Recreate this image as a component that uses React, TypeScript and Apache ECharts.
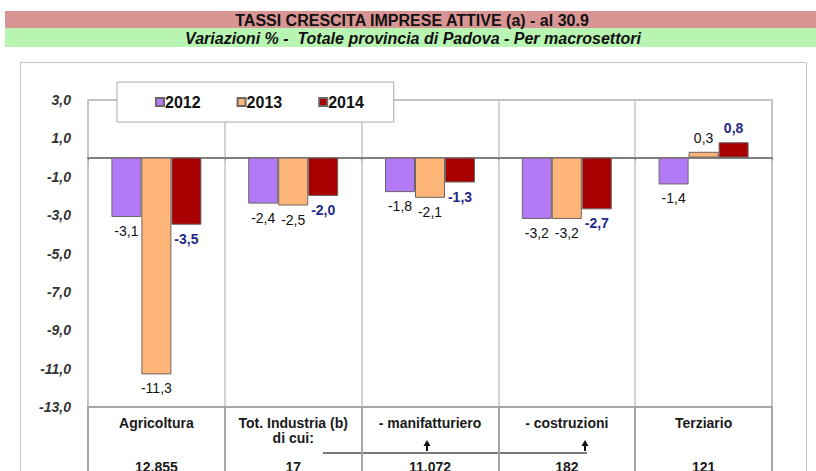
import React, { useEffect, useRef } from "react";
import * as echarts from "echarts";

const categories = [
  "Agricoltura",
  "Tot. Industria (b)\ndi cui:",
  "- manifatturiero",
  "- costruzioni",
  "Terziario",
];
const years = ["2012", "2013", "2014"];
const values2012 = [-3.1, -2.4, -1.8, -3.2, -1.4];
const values2013 = [-11.3, -2.5, -2.1, -3.2, 0.3];
const values2014 = [-3.5, -2.0, -1.3, -2.7, 0.8];
const activeFirms = ["12.855", "17", "11.072", "182", "121"];
const yTickLabels = [-13, -11, -9, -7, -5, -3, -1, 1, 3];

const fmt = (v: number) => v.toFixed(1).replace(".", ",");

function mkSeries(name: string, values: number[], color: string, label: any) {
  return {
    type: "bar",
    name,
    barWidth: 30,
    barGap: "0%",
    data: values.map((v) => ({
      value: v,
      label: { position: v < 0 ? "bottom" : "top" },
    })),
    itemStyle: { color, borderColor: "#6e6666", borderWidth: 1 },
    label: {
      show: true,
      distance: 7,
      fontFamily: "Liberation Sans, Arial, sans-serif",
      fontSize: 14,
      formatter: (p: any) => fmt(p.value),
      ...label,
    },
  };
}

export default function App() {
  const ref = useRef<HTMLDivElement>(null);
  useEffect(() => {
    if (!ref.current) return;
    const chart = echarts.init(ref.current, undefined, { renderer: "svg" });
    const font = "Liberation Sans, Arial, sans-serif";
    chart.setOption({
      animation: false,
      backgroundColor: "#ffffff",
      title: [
        {
          text: "TASSI CRESCITA IMPRESE ATTIVE (a) - al 30.9",
          left: 412,
          top: 12,
          textAlign: "center",
          textStyle: { fontFamily: font, fontSize: 16, fontWeight: "bold", color: "#111" },
          padding: 0,
        },
        {
          text: "Variazioni % -  Totale provincia di Padova - Per macrosettori",
          left: 413,
          top: 30,
          textAlign: "center",
          textStyle: { fontFamily: font, fontSize: 16, fontWeight: "bold", fontStyle: "italic", color: "#111" },
          padding: 0,
        },
      ],
      graphic: [
        { type: "rect", z: -1, shape: { x: 5, y: 11, width: 811, height: 17 }, style: { fill: "#D99594" } },
        { type: "rect", z: -1, shape: { x: 5, y: 28, width: 811, height: 19 }, style: { fill: "#B8F5B2" } },
        {
          type: "rect",
          z: -1,
          shape: { x: 20.5, y: 62.5, width: 786, height: 440 },
          style: { fill: "none", stroke: "#c4c4c4", lineWidth: 1 },
        },
        {
          type: "line",
          shape: { x1: 323, y1: 453, x2: 587, y2: 453 },
          style: { stroke: "#7a7a7a", lineWidth: 2 },
        },
        { type: "line", shape: { x1: 427, y1: 445, x2: 427, y2: 451 }, style: { stroke: "#111", lineWidth: 2 } },
        { type: "polygon", shape: { points: [[427, 440], [423.5, 446], [430.5, 446]] }, style: { fill: "#111" } },
        { type: "line", shape: { x1: 585, y1: 445, x2: 585, y2: 451 }, style: { stroke: "#111", lineWidth: 2 } },
        { type: "polygon", shape: { points: [[585, 440], [581.5, 446], [588.5, 446]] }, style: { fill: "#111" } },
      ],
      legend: {
        data: years,
        left: 117,
        top: 82,
        padding: [12, 30, 12, 38],
        itemGap: 36,
        itemWidth: 8,
        itemHeight: 8,
        icon: "rect",
        backgroundColor: "#ffffff",
        borderColor: "#a8a8a8",
        borderWidth: 1,
        textStyle: { fontFamily: font, fontSize: 16, fontWeight: "bold", color: "#111", padding: [0, 0, 0, -4] },
      },
      grid: {
        left: 88,
        right: 44,
        top: 100,
        bottom: 64,
        outerBoundsMode: "none",
        containLabel: false,
        show: true,
        borderColor: "#b0b0b0",
        borderWidth: 1.5,
        backgroundColor: "transparent",
      },
      xAxis: [
        {
          type: "category",
          data: categories,
          position: "bottom",
          axisLine: { onZero: true, lineStyle: { color: "#808080", width: 2 } },
          axisTick: { show: true, length: 3, lineStyle: { color: "#808080" } },
          axisLabel: { show: false },
          splitLine: { show: true, lineStyle: { color: "#c4c4c4", width: 1.5 } },
        },
        {
          type: "category",
          data: categories,
          position: "bottom",
          axisLine: { onZero: false, lineStyle: { color: "#a6a6a6", width: 2 } },
          axisTick: { show: true, interval: 0, length: 70, lineStyle: { color: "#a6a6a6", width: 2 } },
          axisLabel: {
            interval: 0,
            margin: 9,
            fontFamily: font,
            fontSize: 14,
            fontWeight: "bold",
            color: "#1a1a1a",
            lineHeight: 14.5,
            formatter: (v: string, i: number) => {
              const lines = v.split("\n");
              while (lines.length < 3) lines.push("");
              lines.push(activeFirms[i]);
              return lines.join("\n");
            },
          },
          splitLine: { show: false },
        },
      ],
      yAxis: {
        type: "value",
        min: -13,
        max: 3,
        axisLine: { show: false },
        axisTick: { show: false },
        splitLine: { show: false },
        axisLabel: {
          customValues: yTickLabels,
          margin: 17,
          fontFamily: font,
          fontSize: 14,
          fontWeight: "bold",
          fontStyle: "italic",
          color: "#333",
          formatter: (v: number) => fmt(v),
        },
      },
      series: [
        mkSeries(years[0], values2012, "#B37AF5", { color: "#111" }),
        mkSeries(years[1], values2013, "#FDB677", { color: "#111" }),
        mkSeries(years[2], values2014, "#A80000", { color: "#1F2A8A", fontWeight: "bold" }),
      ],
    });
    return () => chart.dispose();
  }, []);
  return (
    <div
      ref={ref}
      style={{ position: "fixed", left: 0, top: 0, width: 816, height: 471 }}
    />
  );
}
